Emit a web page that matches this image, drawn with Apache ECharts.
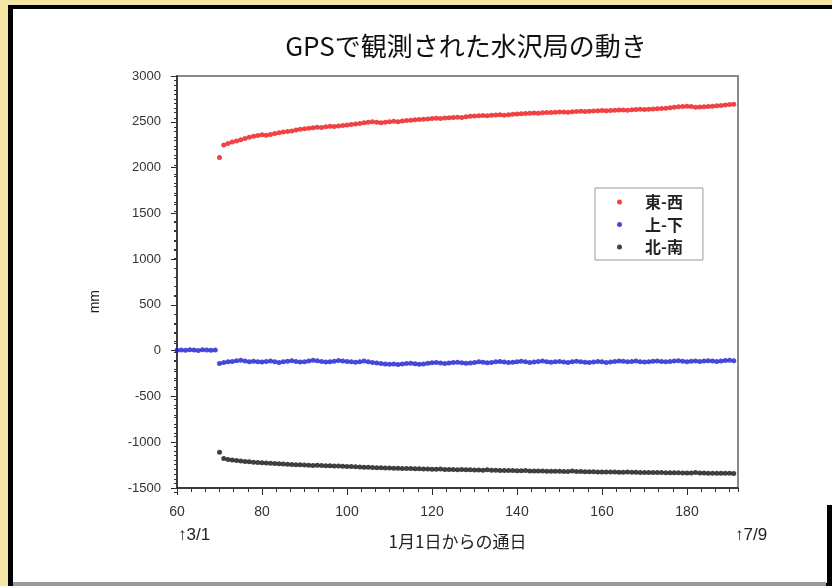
<!DOCTYPE html>
<html>
<head>
<meta charset="utf-8">
<script src="https://cdn.jsdelivr.net/npm/echarts@6/dist/echarts.min.js"></script>
<style>
html,body{margin:0;padding:0;background:#f6e6a6;}
#chart{width:832px;height:586px;}
</style>
</head>
<body>
<div id="chart"></div>
<script>
// ---- data ----
var titleText = 'GPSで観測された水沢局の動き';
var xAxisTitle = '1月1日からの通日';
var yAxisTitle = 'mm';
var startNote = '↑3/1';
var endNote = '↑7/9';
var seriesNames = ['東-西', '上-下', '北-南'];

var days = [60,61,62,63,64,65,66,67,68,69,
70,71,72,73,74,75,76,77,78,79,
80,81,82,83,84,85,86,87,88,89,
90,91,92,93,94,95,96,97,98,99,
100,101,102,103,104,105,106,107,108,109,
110,111,112,113,114,115,116,117,118,119,
120,121,122,123,124,125,126,127,128,129,
130,131,132,133,134,135,136,137,138,139,
140,141,142,143,144,145,146,147,148,149,
150,151,152,153,154,155,156,157,158,159,
160,161,162,163,164,165,166,167,168,169,
170,171,172,173,174,175,176,177,178,179,
180,181,182,183,184,185,186,187,188,189,
190,191];

var eastWest = [null,null,null,null,null,null,null,null,null,null,
2110,2245,2262,2278,2290,2305,2318,2330,2342,2350,
2358,2352,2362,2372,2380,2388,2395,2400,2410,2418,
2425,2430,2436,2440,2437,2445,2450,2448,2455,2460,
2465,2470,2475,2482,2490,2495,2500,2496,2490,2494,
2500,2505,2500,2508,2515,2518,2522,2525,2528,2530,
2535,2538,2536,2542,2545,2548,2550,2548,2555,2560,
2562,2565,2568,2565,2570,2574,2576,2572,2578,2582,
2585,2588,2590,2594,2596,2592,2598,2600,2602,2604,
2606,2608,2604,2610,2612,2614,2612,2616,2618,2620,
2622,2620,2624,2626,2628,2630,2626,2632,2634,2636,
2634,2638,2640,2642,2645,2648,2652,2658,2664,2668,
2670,2666,2660,2662,2665,2668,2670,2674,2678,2682,
2688,2692];

var upDown = [5,8,4,10,6,3,9,7,5,8,
-140,-128,-122,-118,-110,-105,-112,-120,-115,-122,
-125,-118,-112,-120,-128,-122,-115,-110,-118,-125,
-120,-112,-105,-110,-118,-124,-120,-115,-108,-112,
-118,-122,-126,-120,-114,-120,-128,-135,-140,-145,
-148,-145,-150,-146,-140,-138,-142,-148,-145,-138,
-132,-128,-134,-140,-136,-130,-126,-132,-138,-135,
-128,-122,-126,-132,-128,-120,-118,-124,-130,-126,
-120,-116,-122,-128,-124,-118,-114,-120,-126,-122,
-118,-124,-128,-122,-116,-120,-126,-130,-124,-118,
-122,-128,-124,-118,-112,-116,-122,-118,-114,-120,
-124,-120,-116,-112,-118,-122,-118,-114,-110,-116,
-120,-116,-112,-118,-114,-110,-114,-118,-112,-108,
-106,-110];

var northSouth = [null,null,null,null,null,null,null,null,null,null,
-1110,-1178,-1188,-1195,-1200,-1206,-1210,-1214,-1218,-1222,
-1225,-1228,-1230,-1233,-1236,-1238,-1240,-1242,-1245,-1247,
-1249,-1251,-1253,-1252,-1255,-1257,-1258,-1260,-1261,-1263,
-1264,-1266,-1268,-1270,-1272,-1274,-1276,-1278,-1280,-1281,
-1282,-1284,-1285,-1287,-1288,-1286,-1290,-1291,-1292,-1293,
-1294,-1295,-1293,-1297,-1298,-1299,-1300,-1298,-1302,-1302,
-1303,-1304,-1305,-1300,-1306,-1307,-1308,-1309,-1309,-1310,
-1311,-1312,-1308,-1313,-1314,-1315,-1315,-1316,-1317,-1317,
-1318,-1319,-1319,-1314,-1321,-1321,-1322,-1323,-1323,-1324,
-1325,-1325,-1326,-1326,-1327,-1328,-1324,-1329,-1329,-1330,
-1330,-1331,-1331,-1332,-1332,-1333,-1333,-1334,-1334,-1335,
-1335,-1336,-1330,-1337,-1337,-1338,-1338,-1339,-1339,-1340,
-1340,-1341];

var xTicks = {min: 60, max: 192, interval: 20, minorInterval: 20 / 6};
var yTicks = {min: -1500, max: 3000, interval: 500, minorInterval: 100, minorShift: 50};

// ---- build ----
function pairs(vals){
  var out = [];
  for (var i = 0; i < days.length; i++) {
    if (vals[i] !== null && vals[i] !== undefined) out.push([days[i], vals[i]]);
  }
  return out;
}

var chart = echarts.init(document.getElementById('chart'));
var axisFont = 'Liberation Sans, Arial, sans-serif';
var cjkFont = '"Noto Sans CJK JP", sans-serif';
var gridBox = {left: 177, right: 94, top: 76, bottom: 98};
// second minor-tick grid shifted by half a minor step (50 mm) so the two combs interleave
var pxPerUnit = (586 - gridBox.top - gridBox.bottom) / (yTicks.max - yTicks.min);
var shiftPx = yTicks.minorShift * pxPerUnit;
var gridBoxShifted = {left: gridBox.left, right: gridBox.right, top: gridBox.top + shiftPx, bottom: gridBox.bottom - shiftPx};

chart.setOption({
  animation: false,
  backgroundColor: 'transparent',
  title: {
    text: titleText,
    left: 461, top: 28, textAlign: 'center',
    textStyle: {fontFamily: cjkFont, fontSize: 26, fontWeight: 'normal', color: '#111'}
  },
  grid: [
    Object.assign({show: true, borderColor: '#8a8a8a', borderWidth: 2, backgroundColor: '#fff'}, gridBox),
    Object.assign({show: false}, gridBox),
    Object.assign({show: false}, gridBoxShifted)
  ],
  legend: {
    orient: 'vertical', left: 595, top: 188,
    data: seriesNames,
    icon: 'circle', itemWidth: 5, itemHeight: 5, itemGap: 6.5,
    padding: [6, 20, 5, 22],
    borderColor: '#999', borderWidth: 1, backgroundColor: '#fff',
    textStyle: {fontFamily: cjkFont, fontSize: 16, fontWeight: 'bold', color: '#222', lineHeight: 16, padding: [0, 0, 0, 18]}
  },
  xAxis: [{
    gridIndex: 0,
    type: 'value', min: xTicks.min, max: xTicks.max, interval: xTicks.interval, position: 'bottom',
    name: xAxisTitle, nameLocation: 'middle', nameGap: 54,
    nameTextStyle: {fontFamily: cjkFont, fontSize: 17, color: '#222', verticalAlign: 'middle'},
    axisLine: {onZero: false, lineStyle: {color: '#222', width: 1.5}},
    axisTick: {show: true, length: 7, lineStyle: {color: '#222'}},
    splitLine: {show: false},
    axisLabel: {margin: 17, fontFamily: axisFont, fontSize: 14, color: '#333', showMaxLabel: false}
  }, {
    gridIndex: 1,
    type: 'value', min: xTicks.min, max: xTicks.max, interval: xTicks.minorInterval, position: 'bottom',
    axisLine: {show: false, onZero: false},
    axisTick: {show: true, interval: 0, length: 4, lineStyle: {color: '#333'}},
    splitLine: {show: false},
    axisLabel: {show: false, interval: 0}
  }, {
    gridIndex: 2, show: false,
    type: 'value', min: xTicks.min, max: xTicks.max
  }],
  yAxis: [{
    gridIndex: 0,
    type: 'value', min: yTicks.min, max: yTicks.max, interval: yTicks.interval, position: 'left',
    axisLine: {show: true, onZero: false, lineStyle: {color: '#222', width: 1.5}},
    axisTick: {show: true, length: 6, lineStyle: {color: '#222'}},
    splitLine: {show: false},
    axisLabel: {margin: 16, fontFamily: axisFont, fontSize: 13, color: '#333', formatter: function (v) { return String(v); }}
  }, {
    gridIndex: 1,
    type: 'value', min: yTicks.min, max: yTicks.max, interval: yTicks.minorInterval, position: 'left',
    axisLine: {show: false, onZero: false},
    axisTick: {show: true, interval: 0, length: 3, lineStyle: {color: '#333'}},
    splitLine: {show: false},
    axisLabel: {show: false, interval: 0}
  }, {
    gridIndex: 2,
    type: 'value', min: yTicks.min + yTicks.minorShift, max: yTicks.max - yTicks.minorShift,
    interval: yTicks.minorInterval, position: 'left',
    axisLine: {show: false, onZero: false},
    axisTick: {show: true, interval: 0, length: 3, lineStyle: {color: '#333'}},
    splitLine: {show: false},
    axisLabel: {show: false, interval: 0}
  }],
  graphic: [
    {type: 'rect', z: -10, shape: {x: 8, y: 5, width: 840, height: 581}, style: {fill: '#000'}},
    {type: 'rect', z: -9, shape: {x: 13, y: 9, width: 830, height: 574}, style: {fill: '#fff'}},
    {type: 'rect', z: -8, shape: {x: 13, y: 582, width: 813, height: 4}, style: {fill: '#9a9a9a'}},
    {type: 'rect', z: -7, shape: {x: 827, y: 505, width: 5, height: 81}, style: {fill: '#000'}},
    {type: 'text', left: 88, top: 290, rotation: Math.PI / 2,
      style: {text: yAxisTitle, font: '14px ' + axisFont, fill: '#222'}},
    {type: 'text', left: 178, top: 527,
      style: {text: startNote, font: '17px ' + axisFont, fill: '#222'}},
    {type: 'text', left: 735, top: 527,
      style: {text: endNote, font: '17px ' + axisFont, fill: '#222'}}
  ],
  series: [
    {name: seriesNames[0], type: 'scatter', symbolSize: 5, itemStyle: {color: '#ee1515'}, data: pairs(eastWest)},
    {name: seriesNames[1], type: 'scatter', symbolSize: 5, itemStyle: {color: '#1b1bd0'}, data: pairs(upDown)},
    {name: seriesNames[2], type: 'scatter', symbolSize: 5, itemStyle: {color: '#111'}, data: pairs(northSouth)}
  ]
});
</script>
</body>
</html>
